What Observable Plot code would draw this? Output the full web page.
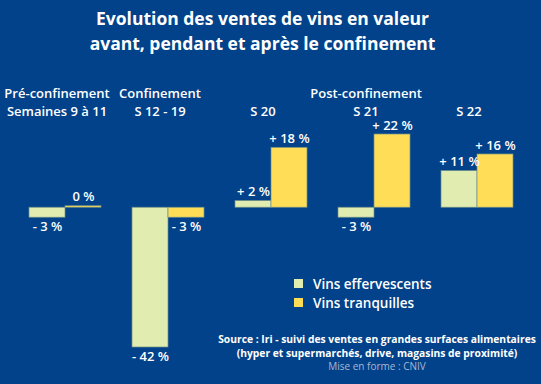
<!DOCTYPE html>
<html>
<head>
<meta charset="utf-8">
<script src="https://cdn.jsdelivr.net/npm/d3@7"></script>
<script src="https://cdn.jsdelivr.net/npm/@observablehq/plot@0.6"></script>
<style>
  html, body { margin: 0; padding: 0; }
  body { width: 541px; height: 384px; overflow: hidden; position: relative; background: #02428a; font-family: "Open Sans", sans-serif; color: #fff; }
  #title { position: absolute; top: 6px; left: 0; width: 525px; text-align: center; font-size: 17.5px; font-weight: 700; line-height: 25px; }
  #chart { position: absolute; top: 62px; left: 0; }
  #legend { position: absolute; left: 294px; top: 274px; font-size: 13.5px; font-weight: 600; }
  #legend .row { display: flex; align-items: center; height: 19px; }
  #legend .sw { width: 9px; height: 9px; margin-right: 10px; }
  #source { position: absolute; left: 207px; width: 340px; top: 333px; text-align: center; font-size: 10.3px; font-weight: 700; line-height: 13.5px; }
  #source .credit { font-weight: 400; color: #a6b8d2; font-size: 10px; }
</style>
</head>
<body>
<div id="title">Evolution des ventes de vins en valeur<br>avant, pendant et après le confinement</div>
<div id="chart"></div>
<div id="legend"></div>
<div id="source">Source : Iri - suivi des ventes en grandes surfaces alimentaires<br>(hyper et supermarchés, drive, magasins de proximité)<br><span class="credit">Mise en forme : CNIV</span></div>
<script>
const periods = ["S 9-11", "S 12-19", "S 20", "S 21", "S 22"];
const phaseLabels = ["Pré-confinement", "Confinement", "", "Post-confinement", ""];
const weekLabels = ["Semaines 9 à 11", "S 12 - 19", "S 20", "S 21", "S 22"];
const series = ["Vins effervescents", "Vins tranquilles"];
const effervescents = [-3, -42, 2, -3, 11];
const tranquilles = [0.45, -3, 18, 22, 16];
const colors = ["#e1edb0", "#ffdd57"];

const data = [];
periods.forEach((p, i) => {
  data.push({period: p, series: series[0], value: effervescents[i]});
  data.push({period: p, series: series[1], value: tranquilles[i]});
});
const heads = periods.map((p, i) => ({period: p, phase: phaseLabels[i], week: weekLabels[i]}));

const fmt = v => {
  const r = Math.round(v);
  if (r > 0) return "+ " + r + " %";
  if (r < 0) return "- " + Math.abs(r) + " %";
  return "0 %";
};

const textStyle = {fill: "white", fontSize: 13, fontWeight: 600, lineAnchor: "middle"};

const chart = Plot.plot({
  width: 541,
  height: 322,
  marginLeft: 26,
  marginRight: 26,
  marginTop: 0,
  marginBottom: 0,
  style: {fontFamily: "Open Sans", background: "transparent", color: "white", overflow: "visible"},
  fx: {domain: periods, paddingInner: 0.287, paddingOuter: 0, axis: null, label: null},
  x: {domain: series, padding: 0, axis: null},
  y: {domain: [-42, 22], range: [285, 72], axis: null},
  color: {domain: series, range: colors},
  marks: [
    Plot.barY(data, {fx: "period", x: "series", y: "value", fill: "series", stroke: "#6f8f86", strokeWidth: 0.7}),
    Plot.text(data.filter(d => d.value >= 0), {fx: "period", x: "series", y: "value", text: d => fmt(d.value), dy: -9, ...textStyle}),
    Plot.text(data.filter(d => d.value < 0), {fx: "period", x: "series", y: "value", text: d => fmt(d.value), dy: 9, ...textStyle}),
    Plot.text(heads, {fx: "period", text: "phase", frameAnchor: "top", dy: 31, dx: -8, ...textStyle}),
    Plot.text(heads, {fx: "period", text: "week", frameAnchor: "top", dy: 49, dx: -8, ...textStyle})
  ]
});
document.getElementById("chart").appendChild(chart);

const legend = document.getElementById("legend");
series.forEach((s, i) => {
  const row = document.createElement("div");
  row.className = "row";
  const sw = document.createElement("div");
  sw.className = "sw";
  sw.style.background = colors[i];
  const lab = document.createElement("span");
  lab.textContent = s;
  row.appendChild(sw);
  row.appendChild(lab);
  legend.appendChild(row);
});
</script>
</body>
</html>
